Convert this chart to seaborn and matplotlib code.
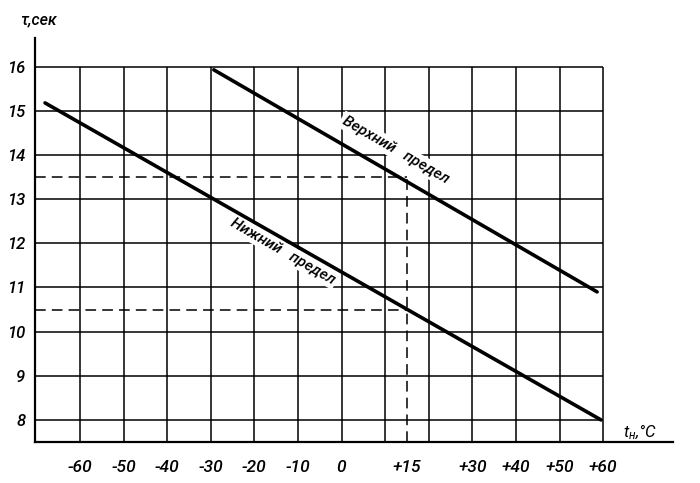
import matplotlib
matplotlib.use('Agg')
import matplotlib.pyplot as plt
import seaborn as sns
import pandas as pd

# ---- data ----
t_upper = [-29.3, 58.6]          # Верхний предел
tau_upper = [15.93, 10.9]
t_lower = [-68.0, 59.5]          # Нижний предел
tau_lower = [15.18, 8.0]

grid_t = [-60, -50, -40, -30, -20, -10, 0, 10, 20, 30, 40, 50, 60]
grid_tau = [8, 9, 10, 11, 12, 13, 14, 15, 16]
tick_t = [-60, -50, -40, -30, -20, -10, 0, 15, 30, 40, 50, 60]
tick_t_labels = ['-60', '-50', '-40', '-30', '-20', '-10', '0', '+15', '+30', '+40', '+50', '+60']
tick_tau_labels = ['8', '9', '10', '11', '12', '13', '14', '15', '16']

read_t = 15
read_tau = [13.5, 10.5]

sns.set_theme(style='white')
plt.rcParams['font.family'] = ['Roboto', 'DejaVu Sans']
plt.rcParams['font.style'] = 'italic'
plt.rcParams['text.color'] = 'black'
plt.rcParams['xtick.color'] = 'black'
plt.rcParams['ytick.color'] = 'black'
plt.rcParams['mathtext.fontset'] = 'custom'
plt.rcParams['mathtext.it'] = 'Roboto:italic'
plt.rcParams['mathtext.rm'] = 'Roboto:italic'

fig = plt.figure(figsize=(7, 4.83), dpi=100)
ax = fig.add_axes([0.05, 0.0849, 0.9114, 0.8364])

xmin, xmax = -70.3, 76.0
ymin, ymax = 7.5, 16.65
ax.set_xlim(xmin, xmax)
ax.set_ylim(ymin, ymax)

# grid (structural)
ax.vlines(grid_t, ymin, grid_tau[-1], color='black', lw=1.1, zorder=1)
ax.hlines(grid_tau, xmin, grid_t[-1], color='black', lw=1.1, zorder=1)

# dashed reading lines
dash = (0, (7, 4))
ax.hlines(read_tau, xmin, read_t, color='black', lw=1.1, linestyles=[dash], zorder=2)
ax.vlines([read_t], ymin, max(read_tau), color='black', lw=1.1, linestyles=[dash], zorder=2)

df = pd.DataFrame({
    't': t_upper + t_lower,
    'tau': tau_upper + tau_lower,
    'series': ['Верхний предел'] * len(t_upper) + ['Нижний предел'] * len(t_lower),
})
sns.lineplot(data=df, x='t', y='tau', units='series', estimator=None, sort=False,
             color='black', lw=2.6, ax=ax, zorder=4, legend=False)

# labels on the lines
box = dict(facecolor='white', edgecolor='none', pad=1.5)
ax.text(12.3, 14.12, 'Верхний   предел', rotation=-30, rotation_mode='anchor',
        ha='center', va='center', fontsize=11, fontweight='medium', bbox=box, zorder=3)
ax.text(-13.4, 11.82, 'Нижний   предел', rotation=-30, rotation_mode='anchor',
        ha='center', va='center', fontsize=11, fontweight='medium', bbox=box, zorder=3)

# axes styling
for s in ['top', 'right']:
    ax.spines[s].set_visible(False)
for s in ['left', 'bottom']:
    ax.spines[s].set_color('black')
    ax.spines[s].set_linewidth(1.6)

ax.set_xticks(tick_t)
ax.set_xticklabels(tick_t_labels, fontsize=12.5, fontweight='medium')
ax.set_yticks(grid_tau)
ax.set_yticklabels(tick_tau_labels, fontsize=12, fontweight='medium')
ax.tick_params(axis='x', length=0, pad=13)
ax.tick_params(axis='y', length=0, pad=7)
ax.set_xlabel('')
ax.set_ylabel('')
ax.grid(False)

fig.text(0.029, 0.958, 'τ,сек', fontsize=11.5, fontweight='medium', ha='left', va='center')
fig.text(0.89, 0.105, r'$t_{н}$,°C', fontsize=12, ha='left', va='center')

fig.savefig('out.png', dpi=100)
